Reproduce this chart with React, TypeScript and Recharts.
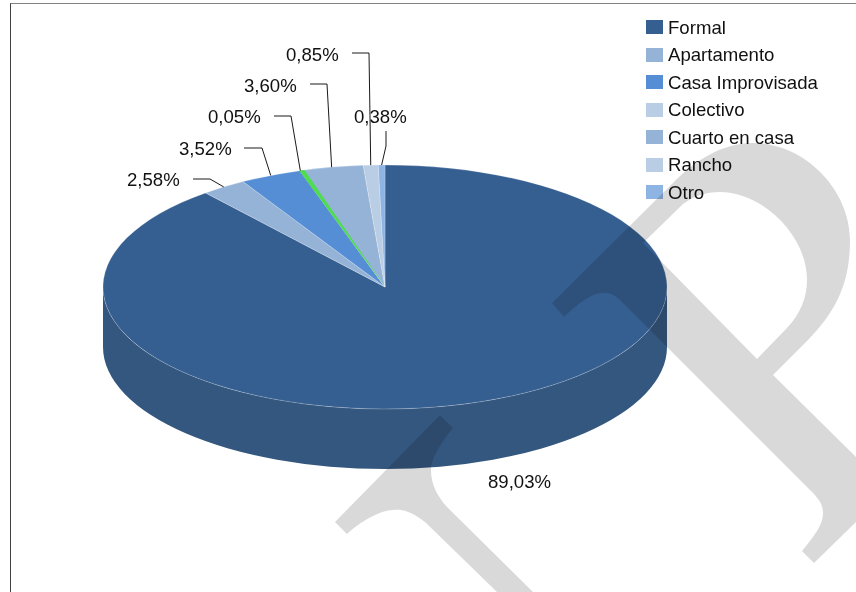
import { PieChart, Pie, Legend } from 'recharts';

const categories = ['Formal', 'Apartamento', 'Casa Improvisada', 'Colectivo', 'Cuarto en casa', 'Rancho', 'Otro'];
const shares = [89.03, 2.58, 3.52, 0.05, 3.6, 0.85, 0.38];

// Colectivo is green on the pie but light blue in the legend, same as the source
const sliceColors = ['#365f91', '#95b3d7', '#558ed5', '#4fdc50', '#95b3d7', '#b9cde5', '#8eb4e3'];
const legendColors = ['#365f91', '#95b3d7', '#558ed5', '#b9cde5', '#95b3d7', '#b9cde5', '#8eb4e3'];

const pieData = categories.map((name, i) => ({ name, value: shares[i], fill: sliceColors[i] }));

const WIDTH = 856;
const HEIGHT = 592;
const CX = 385;
const CY = 287;
const RADIUS = 282;
const TILT = 0.4326; // vertical squash of the pie top
const DEPTH = 60;
const WALL_COLOR = '#34577f';
const FONT = '"Liberation Sans", Arial, sans-serif';
const FONT_SIZE = 18.6;

// where each label sits: text start, text centre, then the bends of its leader line
const labelLayout = [
  { x: 488, y: 481, bends: [] },
  { x: 127, y: 179, bends: [[193, 179], [210, 179]] },
  { x: 179, y: 148, bends: [[244, 148], [262, 148]] },
  { x: 208, y: 116, bends: [[274, 116], [291, 116]] },
  { x: 244, y: 85, bends: [[310, 84], [327, 84]] },
  { x: 286, y: 54, bends: [[352, 53], [369, 53]] },
  { x: 354, y: 116, bends: [[386, 131], [386, 146]] },
];

function onRim(cx: number, cy: number, r: number, angle: number) {
  const rad = (-angle * Math.PI) / 180;
  return { x: cx + r * Math.cos(rad), y: cy + r * TILT * Math.sin(rad) };
}

function sectorPath(cx: number, cy: number, r: number, start: number, end: number) {
  const a = onRim(cx, cy, r, start);
  const b = onRim(cx, cy, r, end);
  const large = start - end > 180 ? 1 : 0;
  return `M${cx},${cy} L${a.x},${a.y} A${r},${r * TILT} 0 ${large} 1 ${b.x},${b.y} Z`;
}

function TopSector(props: any) {
  const { cx, cy, outerRadius: r, startAngle, endAngle, fill } = props;
  return (
    <path
      d={sectorPath(cx, cy, r, startAngle, endAngle)}
      fill={fill}
      stroke="#ffffff"
      strokeOpacity={0.3}
      strokeWidth={0.75}
    />
  );
}

// very thin slices would vanish, the source draws them wider and on top of their neighbours
function ThinSector(props: any) {
  const { cx, cy, outerRadius: r, startAngle, endAngle, fill } = props;
  if (startAngle - endAngle >= 0.5) return null;
  return <path d={sectorPath(cx, cy, r, startAngle + 0.1, endAngle - 0.8)} fill={fill} />;
}

function WallSector(props: any) {
  const { cx, cy, outerRadius: r, startAngle, endAngle } = props;
  // only the front half of the rim is visible
  const from = Math.min(startAngle, 0);
  const to = Math.max(endAngle, -180);
  if (from <= to) return null;
  const a = onRim(cx, cy, r, from);
  const b = onRim(cx, cy, r, to);
  const ry = r * TILT;
  return (
    <path
      d={`M${a.x},${a.y} A${r},${ry} 0 0 1 ${b.x},${b.y} L${b.x},${b.y + DEPTH} A${r},${ry} 0 0 0 ${a.x},${a.y + DEPTH} Z`}
      fill={WALL_COLOR}
    />
  );
}

function renderLabel(props: any) {
  const { cx, cy, outerRadius, midAngle, index, value } = props;
  const place = labelLayout[index];
  const tip = onRim(cx, cy, outerRadius, midAngle);
  const pts = [...place.bends, [tip.x, tip.y]].map((p) => p.join(',')).join(' ');
  return (
    <g key={index}>
      {place.bends.length > 0 && <polyline points={pts} fill="none" stroke="#1a1a1a" strokeWidth={1} />}
      <text x={place.x} y={place.y + 6.5} fontSize={FONT_SIZE} fontFamily={FONT} fill="#111111" textAnchor="start">
        {value.toFixed(2).replace('.', ',') + '%'}
      </text>
    </g>
  );
}

function renderLegend() {
  return (
    <div style={{ fontFamily: FONT, fontSize: FONT_SIZE, color: '#111111' }}>
      {categories.map((name, i) => (
        <div key={name} style={{ height: 27.5, display: 'flex', alignItems: 'center' }}>
          <span style={{ width: 17, height: 14, marginRight: 5, marginTop: -1, background: legendColors[i] }} />
          <span>{name}</span>
        </div>
      ))}
    </div>
  );
}

function Watermark() {
  return (
    <svg
      width={WIDTH}
      height={HEIGHT}
      style={{ position: 'absolute', left: 0, top: 0, mixBlendMode: 'multiply', pointerEvents: 'none' }}
    >
      <path
        fill="#d9d9d9"
        fillRule="evenodd"
        d="M552,303 L673,183 C695,160 723,143 753,143 C805,143 850,190 850,240 C850,285 835,312 808,340 L773,375 L856,457 L856,522 L814,563 L802,551 C815,535 823,525 823,513 C823,503 817,497 810,490 L620,300 C612,293 608,293 603,293 C590,293 575,307 564,317 Z
           M643,243 L757,359 L787,328 C800,314 807,298 807,280 C807,235 762,192 720,192 C705,192 694,196 683,204 Z"
      />
      <path
        fill="#d9d9d9"
        d="M335,522 L440,415 L453,428 C443,440 431,458 431,470 C431,485 438,497 447,507 L533,592 L497,592 L425,522 C410,510 400,509 393,510 C380,510 360,522 347,534 Z"
      />
    </svg>
  );
}

export default function App() {
  return (
    <div style={{ position: 'absolute', left: 0, top: 0, width: WIDTH, height: HEIGHT, overflow: 'hidden', background: '#ffffff' }}>
      <PieChart width={WIDTH} height={HEIGHT} margin={{ top: 0, right: 0, bottom: 0, left: 0 }}>
        {/* side wall goes first so the top face covers it */}
        <Pie
          data={pieData}
          dataKey="value"
          nameKey="name"
          cx={CX}
          cy={CY}
          outerRadius={RADIUS}
          startAngle={90}
          endAngle={-270}
          stroke="none"
          legendType="none"
          shape={WallSector}
          inactiveShape={WallSector}
          isAnimationActive={false}
        />
        <Pie
          data={pieData}
          dataKey="value"
          nameKey="name"
          cx={CX}
          cy={CY}
          outerRadius={RADIUS}
          startAngle={90}
          endAngle={-270}
          shape={TopSector}
          inactiveShape={TopSector}
          legendType="none"
          isAnimationActive={false}
        />
        <Pie
          data={pieData}
          dataKey="value"
          nameKey="name"
          cx={CX}
          cy={CY}
          outerRadius={RADIUS}
          startAngle={90}
          endAngle={-270}
          shape={ThinSector}
          inactiveShape={ThinSector}
          label={renderLabel}
          labelLine={false}
          isAnimationActive={false}
        />
        <Legend
          layout="vertical"
          align="right"
          verticalAlign="top"
          content={renderLegend}
          wrapperStyle={{ left: 646, top: 14, width: 200, right: 'auto' }}
        />
      </PieChart>
      {/* frame of the pasted chart, cut off at right and bottom */}
      <div style={{ position: 'absolute', left: 10, top: 3, right: 0, bottom: 0, borderTop: '1.5px solid #808080', borderLeft: '1.5px solid #404040' }} />
      <Watermark />
    </div>
  );
}
